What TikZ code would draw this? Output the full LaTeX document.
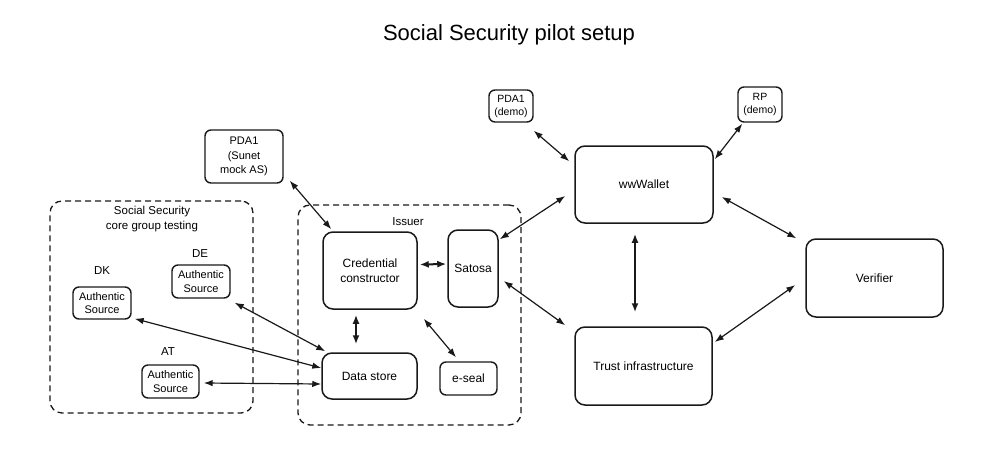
\documentclass[tikz,border=0pt]{standalone}
\usepackage{fontspec}
\setmainfont{Liberation Sans}
\usetikzlibrary{arrows.meta,calc}
\tikzset{
  box/.style={draw=black!90, line width=1.5pt, rounded corners=10pt, align=center, inner sep=0pt, font=\fontsize{12}{15}\selectfont},
  sbox/.style={draw=black!90, line width=1.4pt, rounded corners=6pt, align=center, inner sep=0pt, font=\fontsize{11}{13.5}\selectfont},
  group/.style={draw=black!90, line width=1.3pt, dash pattern=on 6pt off 4pt, rounded corners=12pt, inner sep=0pt},
  lbl/.style={align=center, inner sep=0pt, font=\fontsize{11.5}{15}\selectfont},
  conn/.style={line width=1.2pt, black!90, {Latex[length=9pt,width=6.5pt]}-{Latex[length=9pt,width=6.5pt]}},
  thickconn/.style={line width=2pt, black!90, {Latex[length=9pt,width=7pt]}-{Latex[length=9pt,width=7pt]}}
}
\begin{document}
\begin{tikzpicture}[x=1pt,y=-1pt]
\useasboundingbox (0,0) rectangle (1000,455);
\node[lbl, font=\fontsize{22}{26}\selectfont] (title) at (509,35) {Social Security pilot setup};

% groups
\node[group, minimum width=203pt, minimum height=212pt] (core) at (151.5,307) {};
\node[group, minimum width=223pt, minimum height=220pt] (issuer) at (409.5,315) {};
\node[lbl] (coreT) at (152,219) {Social Security\\core group testing};
\node[lbl] (issuerT) at (408,222) {Issuer};

% authentic sources
\node[lbl] (deT) at (200,254) {DE};
\node[sbox, minimum width=58pt, minimum height=33pt] (de) at (201,281.5) {Authentic\\Source};
\node[lbl] (dkT) at (102,271) {DK};
\node[sbox, minimum width=58pt, minimum height=32pt] (dk) at (102,303) {Authentic\\Source};
\node[lbl] (atT) at (168,352) {AT};
\node[sbox, minimum width=57pt, minimum height=33pt] (at) at (170.5,381.5) {Authentic\\Source};

% issuer internals
\node[box, minimum width=94pt, minimum height=77pt] (cred) at (370,270.5) {Credential\\constructor};
\node[box, minimum width=50pt, minimum height=77pt] (satosa) at (473,268.5) {Satosa};
\node[box, minimum width=95pt, minimum height=46pt] (data) at (369.5,376) {Data store};
\node[sbox, minimum width=57pt, minimum height=33pt, font=\fontsize{12}{15}\selectfont] (eseal) at (468.5,378.5) {e-seal};

% top small boxes
\node[sbox, minimum width=78pt, minimum height=53pt, font=\fontsize{11}{14.5}\selectfont] (pdas) at (244,156.5) {PDA1\\(Sunet\\mock AS)};
\node[sbox, minimum width=44pt, minimum height=32pt, font=\fontsize{10.5}{13}\selectfont] (pdad) at (511,106) {PDA1\\(demo)};
\node[sbox, minimum width=44pt, minimum height=35pt, font=\fontsize{10.5}{13}\selectfont] (rp) at (760,104.5) {RP\\(demo)};

% right side
\node[box, minimum width=138pt, minimum height=77pt] (wallet) at (644,184.5) {wwWallet};
\node[box, minimum width=137pt, minimum height=78pt] (trust) at (643.5,366) {Trust infrastructure};
\node[box, minimum width=137pt, minimum height=78pt] (verifier) at (874.5,278) {Verifier};

% connectors
\draw[conn] ($(pdas.south east)+(6,-3)$) -- ($(cred.north west)+(9,-2)$);
\draw[thickconn] ($(cred.east)+(2,-6)$) -- ($(satosa.west)+(-1,-4.5)$);
\draw[thickconn] ($(cred.south)+(-14,5)$) -- ($(data.north)+(-13.5,-8)$);
\draw[conn] ($(cred.south east)+(6,9)$) -- ($(eseal.north)+(-12.5,-4)$);
\draw[conn] ($(de.south east)+(4,4)$) -- ($(data.north west)+(4,-1)$);
\draw[conn] ($(dk.south east)+(3,-1)$) -- ($(data.west)+(0,-8)$);
\draw[conn] ($(at.east)+(4,1.5)$) -- ($(data.west)+(0,8)$);
\draw[conn] ($(satosa.north east)+(1,10)$) -- ($(wallet.west)+(-9,11.5)$);
\draw[conn] ($(satosa.east)+(5,12.5)$) -- ($(trust.north west)+(-9,-1)$);
\draw[conn] ($(pdad.south east)+(0,8)$) -- ($(wallet.north west)+(-5,16)$);
\draw[conn] ($(rp.south west)+(5,1)$) -- ($(wallet.north east)+(1,14)$);
\draw[thickconn] ($(wallet.south)+(-9,10)$) -- ($(trust.north)+(-8.5,-14)$);
\draw[conn] ($(wallet.east)+(8,12.5)$) -- ($(verifier.north west)+(-9,0)$);
\draw[conn] ($(trust.east)+(2,-24)$) -- ($(verifier.west)+(-10,7)$);
\end{tikzpicture}
\end{document}
